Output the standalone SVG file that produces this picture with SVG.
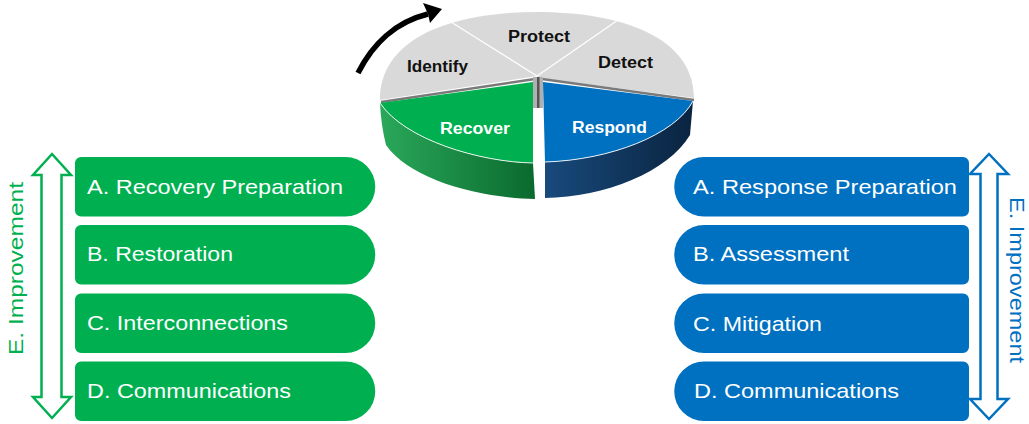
<svg xmlns="http://www.w3.org/2000/svg" width="1029" height="424" viewBox="0 0 1029 424">
<defs>
<linearGradient id="gSide" x1="0" y1="0" x2="1" y2="0">
<stop offset="0" stop-color="#2aa85a"/><stop offset="1" stop-color="#0a6a2e"/>
</linearGradient>
<linearGradient id="bSide" x1="0" y1="0" x2="1" y2="0">
<stop offset="0" stop-color="#184a7c"/><stop offset="1" stop-color="#0a2440"/>
</linearGradient>
<style>
.box-g{fill:#00b050}
.box-b{fill:#0070c0}
.bt{font-family:"Liberation Sans",Arial,sans-serif;font-size:21px;fill:#fff}
.pt{font-family:"Liberation Sans",Arial,sans-serif;font-size:16px;font-weight:bold;fill:#111}
.pw{font-family:"Liberation Sans",Arial,sans-serif;font-size:16px;font-weight:bold;fill:#fff}
.imp{font-family:"Liberation Sans",Arial,sans-serif;font-size:20px}
</style>
</defs>
<rect width="1029" height="424" fill="#fff"/>

<g id="pie">
<path d="M537,76 L380,100 C380,36 455,12 537,12 C619,12 694,36 694,98 L540,78 Z" fill="#d9d9d9"/>
<path d="M537,76 L451,22 M537,76 L618,20" stroke="#fff" stroke-width="1.2" fill="none"/>
<path d="M381,102 L535,79" stroke="#7a7a7a" stroke-width="2.5"/>
<path d="M542,79 L694,100" stroke="#7a7a7a" stroke-width="2.5"/>
<rect x="533" y="77" width="10" height="31" fill="#b0b0b0"/>
<rect x="537" y="77" width="2.5" height="31" fill="#555"/>
<path d="M380,103 C405,140 480,162 533,163 L535,199 C480,198 410,180 386,145 Q381,125 380,103 Z" fill="url(#gSide)"/>
<path d="M380,103 L533,82 L533,163 C480,162 405,140 380,103 Z" fill="#00b050"/>
<path d="M533,163 C480,162 405,140 380,103" stroke="#e8f5ec" stroke-width="1" fill="none"/>
<path d="M693,101 C675,135 610,160 545,162 L545,198 C605,197 668,172 690,135 Z" fill="url(#bSide)"/>
<path d="M543,82 L693,101 C675,135 610,160 545,162 Z" fill="#0070c0"/>
<path d="M693,101 C675,135 610,160 545,162" stroke="#e6eef7" stroke-width="1" fill="none"/>
<text class="pt" x="539" y="42" text-anchor="middle" textLength="62" lengthAdjust="spacingAndGlyphs">Protect</text>
<text class="pt" x="437.5" y="72" text-anchor="middle" textLength="61" lengthAdjust="spacingAndGlyphs">Identify</text>
<text class="pt" x="625.5" y="67.5" text-anchor="middle" textLength="55" lengthAdjust="spacingAndGlyphs">Detect</text>
<text class="pw" x="475" y="133.5" text-anchor="middle" textLength="70" lengthAdjust="spacingAndGlyphs">Recover</text>
<text class="pw" x="609.5" y="133" text-anchor="middle" textLength="75" lengthAdjust="spacingAndGlyphs">Respond</text>
</g>

<g id="connectors">
<path d="M358,73 C372,45 395,22 428,14" stroke="#000" stroke-width="5.5" fill="none"/>
<path d="M442,9 L423,3 L428,14 L430,23 Z" fill="#000"/>
<polygon points="52,154 71,175 61.5,175 61.5,397 71,397 52,418 33,397 41.5,397 41.5,175 33,175" fill="#fff" stroke="#00b050" stroke-width="2.5" stroke-linejoin="miter"/>
<polygon points="989,154 1008,174 997.5,174 997.5,399 1008,399 989,419 970,399 980.5,399 980.5,174 970,174" fill="#fff" stroke="#0070c0" stroke-width="2.5" stroke-linejoin="miter"/>
</g>

<g id="improvement-left">
<text class="imp" fill="#00b050" transform="translate(22.5,268.5) rotate(-90)" text-anchor="middle" textLength="173" lengthAdjust="spacingAndGlyphs">E. Improvement</text>
</g>
<g id="improvement-right">
<text class="imp" fill="#0070c0" transform="translate(1010,280) rotate(90)" text-anchor="middle" textLength="166" lengthAdjust="spacingAndGlyphs">E. Improvement</text>
</g>

<g id="recover-a"><path class="box-g" d="M81,157 H345.5 A29.75,29.75 0 0 1 345.5,216.5 H81 A6,6 0 0 1 75,210.5 V163 A6,6 0 0 1 81,157 Z"/>
<text class="bt" x="87" y="193.5" textLength="256" lengthAdjust="spacingAndGlyphs">A. Recovery Preparation</text></g>
<g id="recover-b"><path class="box-g" d="M81,225 H345.5 A29.75,29.75 0 0 1 345.5,284.5 H81 A6,6 0 0 1 75,278.5 V231 A6,6 0 0 1 81,225 Z"/>
<text class="bt" x="87" y="261" textLength="146" lengthAdjust="spacingAndGlyphs">B. Restoration</text></g>
<g id="recover-c"><path class="box-g" d="M81,293.5 H345.5 A29.75,29.75 0 0 1 345.5,353 H81 A6,6 0 0 1 75,347 V299.5 A6,6 0 0 1 81,293.5 Z"/>
<text class="bt" x="87" y="330" textLength="201" lengthAdjust="spacingAndGlyphs">C. Interconnections</text></g>
<g id="recover-d"><path class="box-g" d="M81,361.5 H345.5 A29.75,29.75 0 0 1 345.5,421 H81 A6,6 0 0 1 75,415 V367.5 A6,6 0 0 1 81,361.5 Z"/>
<text class="bt" x="87" y="397.5" textLength="204" lengthAdjust="spacingAndGlyphs">D. Communications</text></g>

<g id="respond-a"><path class="box-b" d="M963,157 H704 A29.75,29.75 0 0 0 704,216.5 H963 A6,6 0 0 0 969,210.5 V163 A6,6 0 0 0 963,157 Z"/>
<text class="bt" x="693" y="193.5" textLength="264" lengthAdjust="spacingAndGlyphs">A. Response Preparation</text></g>
<g id="respond-b"><path class="box-b" d="M963,225 H704 A29.75,29.75 0 0 0 704,284.5 H963 A6,6 0 0 0 969,278.5 V231 A6,6 0 0 0 963,225 Z"/>
<text class="bt" x="693" y="261" textLength="156" lengthAdjust="spacingAndGlyphs">B. Assessment</text></g>
<g id="respond-c"><path class="box-b" d="M963,293.5 H704 A29.75,29.75 0 0 0 704,353 H963 A6,6 0 0 0 969,347 V299.5 A6,6 0 0 0 963,293.5 Z"/>
<text class="bt" x="693" y="330.5" textLength="129" lengthAdjust="spacingAndGlyphs">C. Mitigation</text></g>
<g id="respond-d"><path class="box-b" d="M963,361.5 H704 A29.75,29.75 0 0 0 704,421 H963 A6,6 0 0 0 969,415 V367.5 A6,6 0 0 0 963,361.5 Z"/>
<text class="bt" x="694" y="397.5" textLength="205" lengthAdjust="spacingAndGlyphs">D. Communications</text></g>
</svg>
